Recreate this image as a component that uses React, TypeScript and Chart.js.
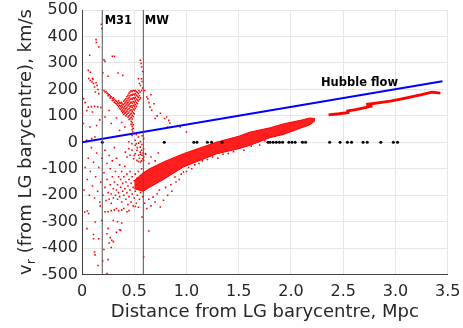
import React, { useEffect, useRef } from 'react';
import { Chart, registerables } from 'chart.js';

Chart.register(...registerables);

const FONT = '"DejaVu Sans", sans-serif';

// Axis ticks
const xTickValues = [0, 0.5, 1, 1.5, 2, 2.5, 3, 3.5];
const yTickValues = [-500, -400, -300, -200, -100, 0, 100, 200, 300, 400, 500];

// Hubble flow line (distance, Mpc ; velocity km/s)
const hubbleX = [0, 3.45];
const hubbleV = [0, 231];

// Reference lines
const m31X = 0.194;
const mwX = 0.587;

// Black points on v = 0
const blackX = [0.194, 0.787, 1.07, 1.10, 1.20, 1.24, 1.34, 1.78, 1.80, 1.83, 1.86, 1.89, 1.92, 1.98, 2.01, 2.04, 2.11, 2.14, 2.37, 2.47, 2.54, 2.58, 2.69, 2.73, 2.86, 2.98, 3.02];

// Dense main band: shared x, upper and lower velocity envelope
const bandX = [0.50, 0.587, 0.65, 0.78, 0.97, 1.29, 1.5, 1.61, 1.8, 1.93, 2.1, 2.18, 2.23];
const bandUpper = [-145, -115, -99, -74, -43, 1, 23, 39, 55, 70, 84, 92, 90];
const bandLower = [-175, -185, -169, -140, -93, -43, -24, -11, 18, 30, 55, 66, 82];

// Thin outer streams
const streamA: [number, number][] = [[2.36, 104], [2.46, 108], [2.56, 113]];
const streamB: [number, number][] = [[2.53, 118], [2.62, 124], [2.72, 132], [2.78, 138]];
const streamC: [number, number][] = [[2.72, 143], [2.85, 150], [2.95, 156], [3.05, 163], [3.14, 171], [3.25, 180], [3.35, 190], [3.43, 186]];

// Sparse red points, positive velocities near M31 / MW
const upperScatter: [number, number][] = [
  [0.185, 446], [0.19, 430], [0.134, 388], [0.137, 377], [0.16, 360], [0.074, 329], [0.29, 325], [0.31, 325],
  [0.21, 312], [0.22, 306], [0.558, 310], [0.565, 298], [0.57, 285], [0.58, 268], [0.06, 272], [0.08, 265],
  [0.20, 263], [0.345, 262], [0.39, 253], [0.25, 250], [0.10, 242], [0.105, 238], [0.54, 240], [0.57, 240],
  [0.064, 241], [0.08, 234], [0.096, 228], [0.11, 222], [0.134, 225], [0.144, 215], [0.12, 209], [0.153, 200],
  [0.128, 190], [0.16, 184], [0.575, 230], [0.56, 215], [0.58, 205], [0.57, 196], [0.55, 222],
  [0.005, 108], [0.015, 165], [0.03, 150], [0.06, 133], [0.09, 135], [0.12, 136], [0.15, 134], [0.18, 132],
  [0.045, 120], [0.10, 115], [0.22, 96], [0.28, 71], [0.36, 45], [0.41, 58], [0.013, 71], [0.077, 58],
  [0.14, 64], [0.124, 20], [0.045, 8], [0.093, 14], [0.17, 85], [0.26, 120], [0.33, 92], [0.38, 75],
  [0.60, 196], [0.63, 165], [0.65, 133], [0.667, 121], [0.69, 146], [0.62, 171], [0.64, 150], [0.70, 90],
  [0.72, 100], [0.79, 90], [0.83, 83], [0.81, 96], [0.84, 72], [0.82, 58], [0.94, 58], [1.0, 39], [0.75, 110],
  [0.66, 180], [0.447, 2], [0.51, 8], [0.54, 20], [0.56, 3], [0.59, 14], [0.48, 26], [0.52, 30], [0.575, 25],
];

// Dense "heart" shaped cluster between M31 and MW
const heartCluster: [number, number][] = [
  [0.21, 196], [0.22, 190], [0.23, 192], [0.24, 186], [0.25, 183], [0.25, 176], [0.26, 180], [0.27, 175],
  [0.27, 168], [0.28, 172], [0.29, 166], [0.29, 158], [0.30, 168], [0.30, 160], [0.31, 163], [0.31, 152],
  [0.32, 158], [0.32, 148], [0.33, 155], [0.33, 145], [0.34, 150], [0.34, 140], [0.35, 156], [0.35, 146],
  [0.35, 135], [0.36, 150], [0.36, 140], [0.36, 128], [0.37, 148], [0.37, 136], [0.37, 124], [0.38, 150],
  [0.38, 140], [0.38, 130], [0.38, 118], [0.39, 145], [0.39, 133], [0.39, 122], [0.39, 112], [0.40, 155],
  [0.40, 142], [0.40, 128], [0.40, 116], [0.40, 105], [0.41, 160], [0.41, 148], [0.41, 135], [0.41, 122],
  [0.41, 110], [0.42, 165], [0.42, 152], [0.42, 140], [0.42, 127], [0.42, 114], [0.42, 100], [0.43, 172],
  [0.43, 158], [0.43, 145], [0.43, 132], [0.43, 118], [0.43, 105], [0.44, 178], [0.44, 165], [0.44, 150],
  [0.44, 137], [0.44, 124], [0.44, 110], [0.44, 95], [0.45, 185], [0.45, 170], [0.45, 156], [0.45, 142],
  [0.45, 128], [0.45, 115], [0.45, 100], [0.45, 86], [0.46, 190], [0.46, 176], [0.46, 162], [0.46, 148],
  [0.46, 134], [0.46, 120], [0.46, 105], [0.46, 90], [0.47, 195], [0.47, 180], [0.47, 166], [0.47, 152],
  [0.47, 138], [0.47, 124], [0.47, 110], [0.47, 95], [0.47, 80], [0.47, 68], [0.48, 192], [0.48, 178],
  [0.48, 163], [0.48, 148], [0.48, 133], [0.48, 118], [0.48, 102], [0.48, 88], [0.48, 74], [0.48, 60],
  [0.48, 48], [0.485, 40], [0.49, 52], [0.49, 66], [0.49, 196], [0.49, 182], [0.49, 168], [0.49, 154],
  [0.49, 140], [0.49, 126], [0.49, 112], [0.49, 98], [0.50, 194], [0.50, 180], [0.50, 165], [0.50, 150],
  [0.50, 136], [0.50, 122], [0.50, 108], [0.51, 196], [0.51, 184], [0.51, 170], [0.51, 156], [0.51, 142],
  [0.51, 128], [0.52, 192], [0.52, 178], [0.52, 164], [0.52, 150], [0.52, 136], [0.53, 188], [0.53, 174],
  [0.53, 160], [0.53, 146], [0.54, 184], [0.54, 170], [0.54, 156], [0.55, 176], [0.55, 162], [0.56, 168],
  [0.555, 190], [0.545, 196],
];

// Cluster just below zero next to the MW line
const mwCluster: [number, number][] = [
  [0.478, -5], [0.51, -11], [0.542, -3], [0.558, -18], [0.574, -8], [0.59, -24], [0.526, -30], [0.558, -37],
  [0.574, -49], [0.59, -55], [0.542, -49], [0.51, -43], [0.478, -30], [0.447, -24], [0.415, -37], [0.494, -62],
  [0.526, -68], [0.558, -74], [0.59, -68], [0.606, -43], [0.46, -49], [0.43, -55], [0.55, -60], [0.57, -30],
  [0.58, -62], [0.53, -20], [0.56, -45], [0.54, -72], [0.585, -40], [0.57, -70], [0.50, -50], [0.52, -5],
];

// Scattered negative-velocity points left of the band
const negScatter: [number, number][] = [
  [0.02, -180], [0.03, -95], [0.05, -140], [0.06, -60], [0.07, -200], [0.08, -110], [0.09, -20], [0.10, -165],
  [0.11, -75], [0.12, -210], [0.13, -130], [0.14, -40], [0.15, -185], [0.16, -95], [0.17, -225], [0.18, -150],
  [0.19, -60], [0.20, -200], [0.21, -115], [0.22, -170], [0.22, -30], [0.23, -220], [0.24, -140], [0.24, -80],
  [0.25, -190], [0.26, -50], [0.26, -215], [0.27, -160], [0.27, -100], [0.28, -230], [0.28, -195], [0.29, -130],
  [0.29, -70], [0.30, -210], [0.30, -175], [0.31, -150], [0.31, -20], [0.32, -200], [0.32, -110], [0.33, -180],
  [0.33, -60], [0.34, -215], [0.34, -160], [0.35, -130], [0.35, -190], [0.36, -85], [0.36, -205], [0.37, -170],
  [0.37, -140], [0.38, -225], [0.38, -110], [0.39, -185], [0.39, -155], [0.40, -200], [0.40, -130], [0.41, -175],
  [0.41, -90], [0.42, -215], [0.42, -150], [0.43, -190], [0.43, -120], [0.44, -165], [0.44, -235], [0.45, -140],
  [0.45, -205], [0.46, -180], [0.46, -110], [0.47, -225], [0.47, -155], [0.48, -195], [0.48, -130], [0.49, -170],
  [0.49, -240], [0.50, -145], [0.50, -210], [0.51, -185], [0.51, -120], [0.52, -160], [0.52, -230], [0.53, -200],
  [0.53, -135], [0.54, -175], [0.54, -110], [0.55, -150], [0.55, -215], [0.56, -190], [0.56, -125], [0.57, -165],
  [0.57, -100], [0.58, -140], [0.58, -205], [0.59, -180], [0.59, -115],
];

// Deep negative tail
const lowScatter: [number, number][] = [
  [0.026, -263], [0.064, -269], [0.175, -240], [0.127, -301], [0.19, -295], [0.048, -326], [0.11, -364],
  [0.16, -364], [0.12, -414], [0.125, -425], [0.153, -465], [0.198, -448], [0.21, -405], [0.24, -496],
  [0.25, -443], [0.22, -262], [0.25, -262], [0.28, -258], [0.31, -255], [0.33, -250], [0.35, -258],
  [0.38, -255], [0.40, -250], [0.43, -262], [0.45, -258], [0.25, -325], [0.24, -345], [0.27, -360],
  [0.285, -370], [0.26, -380], [0.30, -375], [0.28, -397], [0.30, -295], [0.34, -300], [0.38, -305],
  [0.36, -330], [0.33, -340], [0.37, -332], [0.51, -242], [0.54, -245], [0.574, -282], [0.64, -335],
  [0.59, -433], [0.05, -259], [0.11, -348],
];

// Fringe points around the main band
const bandFringe: [number, number][] = [
  [0.60, -230], [0.62, -250], [0.64, -215], [0.66, -240], [0.68, -207], [0.70, -225], [0.72, -195], [0.75, -244],
  [0.78, -219], [0.74, -180], [0.80, -170], [0.82, -200], [0.85, -160], [0.86, -185], [0.89, -131], [0.90, -150],
  [0.93, -140], [0.95, -120], [0.97, -112], [1.00, -110], [1.02, -95], [1.05, -100], [1.08, -85], [1.12, -80],
  [1.15, -70], [1.2, -65], [1.25, -55], [1.3, -60], [1.35, -45], [1.4, -42], [1.45, -35], [1.55, -30],
  [1.62, -15], [1.7, -10], [1.75, 5], [0.61, -45], [0.64, -80], [0.66, -55], [0.70, -70], [0.73, -40],
];

const xTitle = 'Distance from LG barycentre, Mpc';
const yTitleMain = 'v';
const yTitleSub = 'r';
const yTitleRest = ' (from LG barycentre), km/s';

const pts = (arr: [number, number][]) => arr.map(([x, y]) => ({ x, y }));

const textPlugin = {
  id: 'texts',
  afterDatasetsDraw(chart: any) {
    const { ctx, scales } = chart;
    const x = scales.x;
    const y = scales.y;
    ctx.save();
    ctx.fillStyle = '#000';
    ctx.font = `bold 11.5px ${FONT}`;
    ctx.textBaseline = 'middle';
    ctx.textAlign = 'left';
    ctx.fillText('M31', x.getPixelForValue(0.217), y.getPixelForValue(458));
    ctx.fillText('MW', x.getPixelForValue(0.60), y.getPixelForValue(458));
    ctx.fillText('Hubble flow', x.getPixelForValue(2.287), y.getPixelForValue(224));
    ctx.restore();
  },
  afterDraw(chart: any) {
    const { ctx, chartArea } = chart;
    ctx.save();
    ctx.fillStyle = '#262626';
    ctx.font = `18px ${FONT}`;
    ctx.textAlign = 'center';
    ctx.textBaseline = 'alphabetic';
    ctx.fillText(xTitle, (chartArea.left + chartArea.right) / 2, 316.5);

    ctx.translate(30.5, 142);
    ctx.rotate(-Math.PI / 2);
    ctx.textAlign = 'left';
    const big = `18px ${FONT}`;
    const small = `13px ${FONT}`;
    ctx.font = big;
    const wv = ctx.measureText(yTitleMain).width;
    const wrest = ctx.measureText(yTitleRest).width;
    ctx.font = small;
    const wr = ctx.measureText(yTitleSub).width;
    const x0 = -(wv + wr + wrest) / 2;
    ctx.font = big;
    ctx.fillText(yTitleMain, x0, 0);
    ctx.font = small;
    ctx.fillText(yTitleSub, x0 + wv, 4);
    ctx.font = big;
    ctx.fillText(yTitleRest, x0 + wv + wr, 0);
    ctx.restore();
  },
};

const zeroPad = (s: any) => {
  s.paddingTop = 0;
  s.paddingBottom = 0;
  s.paddingLeft = 0;
  s.paddingRight = 0;
};

export default function App() {
  const ref = useRef<HTMLCanvasElement | null>(null);

  useEffect(() => {
    if (!ref.current) return;
    const red = 'rgb(255,0,0)';
    const redPts = (data: [number, number][]) => ({
      data: pts(data),
      pointStyle: 'rect',
      pointRadius: 1.1,
      pointBackgroundColor: red,
      pointBorderWidth: 0,
      showLine: false,
      order: 5,
    });
    const lineDs = (data: { x: number; y: number }[], color: string, width: number, order: number) => ({
      type: 'line',
      data,
      borderColor: color,
      borderWidth: width,
      pointRadius: 0,
      showLine: true,
      fill: false,
      tension: 0,
      order,
    });
    const chart = new Chart(ref.current, {
      type: 'scatter',
      data: {
        datasets: [
          {
            type: 'line',
            data: bandX.map((x, i) => ({ x, y: bandLower[i] })),
            borderColor: red,
            borderWidth: 1,
            pointRadius: 0,
            fill: false,
            tension: 0,
            order: 6,
          },
          {
            type: 'line',
            data: bandX.map((x, i) => ({ x, y: bandUpper[i] })),
            borderColor: red,
            borderWidth: 1,
            backgroundColor: 'rgba(255,0,0,0.88)',
            pointRadius: 0,
            fill: '-1',
            tension: 0,
            order: 6,
          },
          redPts(upperScatter),
          redPts(heartCluster),
          redPts(mwCluster),
          redPts(negScatter),
          redPts(lowScatter),
          redPts(bandFringe),
          lineDs(pts(streamA), red, 2.8, 5),
          lineDs(pts(streamB), red, 2.8, 5),
          lineDs(pts(streamC), red, 2.8, 5),
          {
            data: blackX.map((x) => ({ x, y: 0 })),
            pointRadius: 1.5,
            pointBackgroundColor: '#000',
            pointBorderWidth: 0,
            order: 3,
          },
          lineDs(hubbleX.map((x, i) => ({ x, y: hubbleV[i] })), 'rgb(0,0,255)', 2, 2),
          lineDs([{ x: m31X, y: -500 }, { x: m31X, y: 500 }], '#555555', 1, 1),
          lineDs([{ x: mwX, y: -500 }, { x: mwX, y: 500 }], '#555555', 1, 1),
        ] as any,
      },
      options: {
        animation: false,
        responsive: true,
        maintainAspectRatio: false,
        layout: { padding: { top: 10, right: 15.3, left: 0, bottom: 0 } },
        plugins: { legend: { display: false }, tooltip: { enabled: false } },
        scales: {
          x: {
            type: 'linear',
            min: 0,
            max: 3.5,
            afterBuildTicks: (s: any) => { s.ticks = xTickValues.map((v) => ({ value: v })); },
            ticks: { font: { family: FONT, size: 16 }, color: '#262626', padding: 8, maxRotation: 0, autoSkip: false },
            grid: { color: '#e6e6e6', drawTicks: false, lineWidth: 1 },
            border: { color: '#404040', width: 1 },
            afterFit: (s: any) => { s.height = 53.3; zeroPad(s); },
          },
          y: {
            type: 'linear',
            min: -500,
            max: 500,
            afterBuildTicks: (s: any) => { s.ticks = yTickValues.map((v) => ({ value: v })); },
            ticks: { font: { family: FONT, size: 16 }, color: '#262626', padding: 4, autoSkip: false },
            grid: { color: '#e6e6e6', drawTicks: false, lineWidth: 1 },
            border: { color: '#404040', width: 1 },
            afterFit: (s: any) => { s.width = 82; zeroPad(s); },
          },
        },
      } as any,
      plugins: [textPlugin],
    });
    return () => chart.destroy();
  }, []);

  return (
    <div style={{ position: 'fixed', left: 0, top: 0, width: 463, height: 328, background: '#fff' }}>
      <canvas ref={ref} />
    </div>
  );
}
